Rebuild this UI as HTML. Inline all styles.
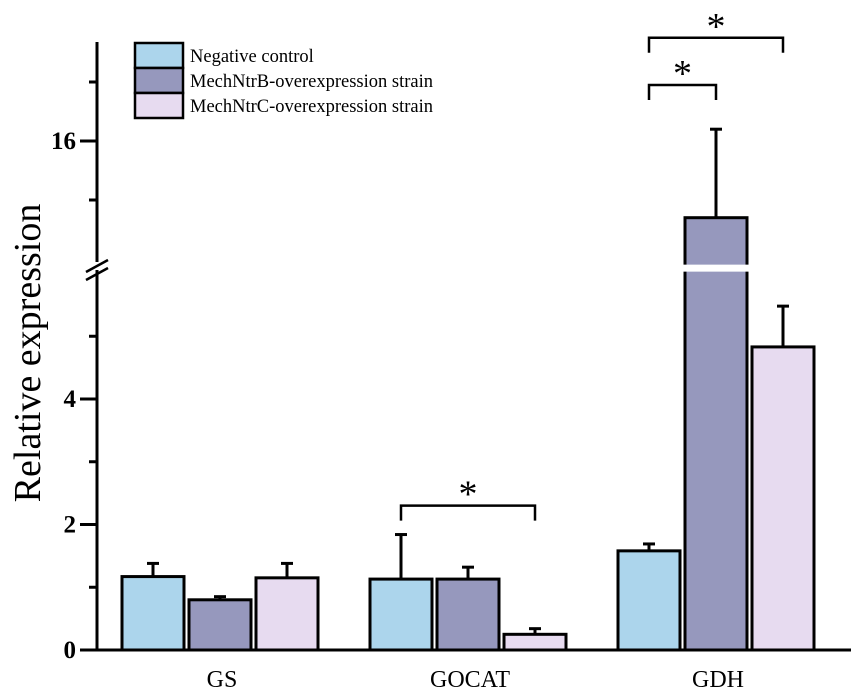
<!DOCTYPE html>
<html><head><meta charset="utf-8"><style>
body{margin:0;background:#fff}
svg{display:block;font-family:"Liberation Serif",serif}
</style></head><body>
<svg id="c" width="851" height="700" viewBox="0 0 851 700" xmlns="http://www.w3.org/2000/svg"></svg>
<script>
const categories=["GS","GOCAT","GDH"];
const seriesNames=["Negative control","MechNtrB-overexpression strain","MechNtrC-overexpression strain"];
const colors=["#acd5ec","#9698bd","#e7dbf0"];
const valNC=[1.17,1.13,1.58];
const valNtrB=[0.80,1.13,13.4];
const valNtrC=[1.15,0.25,4.83];
const errNC=[0.21,0.71,0.11];
const errNtrB=[0.05,0.19,3.0];
const errNtrC=[0.23,0.09,0.65];
const lowerTicks=[0,2,4];
const lowerMinor=[1,3,5];
const upperTicks=[16];
const upperMinor=[14,18];
const sigs=[{g:1,a:0,b:2,y:2.3},{g:2,a:0,b:1,y:17.9},{g:2,a:0,b:2,y:19.5}];

const NS="http://www.w3.org/2000/svg";
const svg=document.getElementById('c');
function el(t,a,p){const e=document.createElementNS(NS,t);for(const k in a)e.setAttribute(k,a[k]);(p||svg).appendChild(e);return e;}
const BREAK=5.95;
function y(v){ if(v<=BREAK) return 650-v*62.75; return 141-(v-16)*29.5; }
function gx(g){return 222+g*248;}
function bx(g,s){return gx(g)-100+s*67;}
const BW=62;
const vals=[valNC,valNtrB,valNtrC], errs=[errNC,errNtrB,errNtrC];
for(let s=0;s<3;s++)for(let g=0;g<3;g++){
  const v=vals[s][g], e=errs[s][g], x=bx(g,s);
  const top=y(v);
  const cx=x+BW/2;
  let l=el('line',{x1:cx,x2:cx,y1:top,y2:y(v+e),stroke:'#000','stroke-width':3});
  
  let cap=el('line',{x1:cx-6,x2:cx+6,y1:y(v+e),y2:y(v+e),stroke:'#000','stroke-width':3});
  
  let r=el('rect',{x:x,y:top,width:BW,height:650-top,fill:colors[s],stroke:'#000','stroke-width':3});
  
  
  if(v>BREAK){
    let w=el('rect',{x:x-3,y:y(BREAK)-12,width:BW+6,height:7,fill:'#fff'});
    
  }
}
let ax=el('line',{x1:97,x2:97,y1:42,y2:651,stroke:'#000','stroke-width':3});

let xa=el('line',{x1:80,x2:851,y1:650,y2:650,stroke:'#000','stroke-width':3});

let bg=el('rect',{x:85,y:262,width:24,height:8,fill:'#fff'});

for(const dy of [0,8]){let b=el('line',{x1:86,x2:108,y1:272+dy,y2:260+dy,stroke:'#000','stroke-width':2.5});
}
for(const t of lowerTicks.concat(upperTicks)){
  let l=el('line',{x1:80,x2:97,y1:y(t),y2:y(t),stroke:'#000','stroke-width':3});
  
  let tx=el('text',{x:76,y:y(t)+8,'text-anchor':'end','font-size':25,'font-weight':'bold'});
  tx.textContent=t;
}
for(const t of lowerMinor.concat(upperMinor)){
  let l=el('line',{x1:89,x2:97,y1:y(t),y2:y(t),stroke:'#000','stroke-width':3});
  
}
categories.forEach((c,g)=>{
  let t=el('text',{x:gx(g),y:687,'text-anchor':'middle','font-size':24});
  t.textContent=c;
});
let yt=el('text',{x:0,y:0,'text-anchor':'middle','font-size':38,transform:'translate(40,353) rotate(-90)'});
yt.textContent='Relative expression';
for(const s of sigs){
  const x1=bx(s.g,s.a)+BW/2, x2=bx(s.g,s.b)+BW/2, yy=y(s.y);
  let p=el('path',{d:`M${x1} ${yy+15}V${yy}H${x2}V${yy+15}`,fill:'none',stroke:'#000','stroke-width':2.5});
  
  let t=el('text',{x:(x1+x2)/2,y:yy+1,'text-anchor':'middle','font-size':38});
  t.textContent='*';
}
seriesNames.forEach((n,i)=>{
  let r=el('rect',{x:135,y:43+i*25,width:48,height:25,fill:colors[i],stroke:'#000','stroke-width':2.5});
  
  let t=el('text',{x:190,y:62+i*25,'font-size':18.5});
  t.textContent=n;
});
</script>
</body></html>
